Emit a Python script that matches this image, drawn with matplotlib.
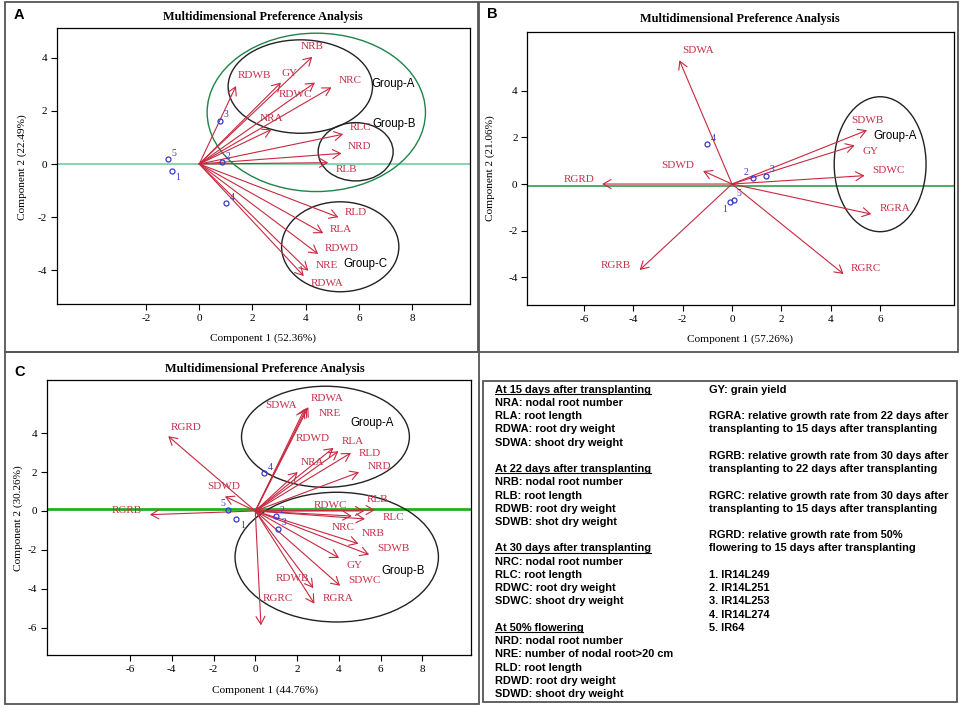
import matplotlib
matplotlib.use("Agg")
import matplotlib.pyplot as plt
from matplotlib.patches import Ellipse, Rectangle

plt.rcParams["font.family"] = ["Liberation Serif", "DejaVu Serif"]
plt.rcParams["axes.unicode_minus"] = False

# ---- panel A: root traits ----
a_vars = ["NRB", "GY", "RDWC", "NRC", "RDWB", "NRA", "RLC", "NRD", "RLB",
          "RLD", "RLA", "RDWD", "NRE", "RDWA"]
a_tip_x = [4.25, 3.07, 4.35, 4.97, 1.38, 2.72, 5.41, 5.35, 4.85, 5.23, 4.66, 4.47, 4.10, 3.93]
a_tip_y = [4.03, 3.06, 3.06, 2.88, 2.93, 1.30, 1.12, 0.40, 0.05, -2.00, -2.60, -3.38, -4.01, -4.21]
a_lab_x = [4.25, 3.41, 3.62, 5.66, 2.06, 2.72, 6.08, 6.04, 5.54, 5.89, 5.33, 5.35, 4.79, 4.82]
a_lab_y = [4.41, 3.41, 2.62, 3.12, 3.31, 1.72, 1.37, 0.65, -0.19, -1.82, -2.46, -3.18, -3.83, -4.49]
a_obs = ["1", "2", "3", "4", "5"]
a_obs_x = [-1.04, 0.84, 0.78, 1.00, -1.19]
a_obs_y = [-0.25, 0.06, 1.63, -1.45, 0.20]
a_groups = ["Group-A", "Group-B", "Group-C"]
a_group_x = [7.29, 7.33, 6.25]
a_group_y = [3.00, 1.50, -3.76]
a_ell_cx = [4.40, 3.80, 5.88, 5.30]
a_ell_cy = [1.94, 2.91, 0.46, -3.11]
a_ell_w = [8.21, 5.43, 2.82, 4.41]
a_ell_h = [5.95, 3.51, 2.19, 3.38]

# ---- panel B: shoot traits and growth rates ----
b_vars = ["SDWA", "SDWD", "RGRD", "RGRB", "RGRC", "RGRA", "SDWC", "GY", "SDWB"]
b_tip_x = [-2.13, -1.17, -5.26, -3.74, 4.52, 5.64, 5.37, 4.97, 5.47]
b_tip_y = [5.31, 0.56, 0.00, -3.69, -3.86, -1.29, 0.36, 1.66, 2.31]
b_lab_x = [-1.38, -2.19, -6.19, -4.70, 5.44, 6.59, 6.34, 5.60, 5.47]
b_lab_y = [5.71, 0.79, 0.20, -3.50, -3.63, -1.07, 0.57, 1.39, 2.71]
b_obs = ["1", "2", "3", "4", "5"]
b_obs_x = [-0.07, 0.85, 1.38, -1.01, 0.07]
b_obs_y = [-0.79, 0.24, 0.36, 1.70, -0.69]
b_groups = ["Group-A"]
b_group_x = [6.61]
b_group_y = [2.06]
b_ell_cx = [6.00]
b_ell_cy = [0.85]
b_ell_w = [3.72]
b_ell_h = [5.79]

# ---- panel C: all traits ----
c_vars = ["RDWA", "NRE", "SDWA", "RGRD", "RDWD", "RLA", "RLD", "NRA", "NRD", "SDWD",
          "RGRB", "RLB", "RDWC", "RLC", "NRC", "NRB", "SDWB", "GY", "SDWC", "RDWB",
          "RGRA", "RGRC"]
c_tip_x = [2.54, 2.46, 2.36, -4.17, 3.74, 3.98, 4.58, 2.03, 4.97, -1.45,
           -5.05, 5.73, 5.22, 5.25, 4.62, 4.94, 5.45, 4.01, 4.06, 2.78,
           2.83, 0.27]
c_tip_y = [5.33, 5.29, 5.24, 3.84, 3.24, 3.07, 2.98, 2.00, 1.99, 0.75,
           -0.19, 0.05, 0.00, -0.41, -0.26, -1.68, -2.24, -2.41, -3.84, -3.96,
           -4.76, -5.87]
c_lab_x = [3.42, 3.55, 1.23, -3.29, 2.75, 4.65, 5.50, 2.73, 5.93, -1.50,
           -6.17, 5.85, 3.58, 6.61, 4.22, 5.65, 6.61, 4.74, 5.22, 1.79,
           3.95, 1.07]
c_lab_y = [5.80, 5.00, 5.43, 4.30, 3.72, 3.58, 2.95, 2.50, 2.26, 1.25,
           0.03, 0.58, 0.29, -0.31, -0.84, -1.15, -1.95, -2.79, -3.58, -3.48,
           -4.50, -4.50]
c_obs = ["1", "2", "3", "4", "5"]
c_obs_x = [-0.91, 1.00, 1.10, 0.42, -1.29]
c_obs_y = [-0.39, -0.27, -0.91, 1.93, 0.05]
c_groups = ["Group-A", "Group-B"]
c_group_x = [5.61, 7.09]
c_group_y = [4.52, -3.10]
c_ell_cx = [3.36, 3.90]
c_ell_cy = [3.81, -2.37]
c_ell_w = [8.04, 9.74]
c_ell_h = [5.19, 6.66]

# ---- legend text ----
legend_left = [
    "At 15 days after transplanting", "NRA: nodal root number", "RLA: root length",
    "RDWA: root dry weight", "SDWA: shoot dry weight", "",
    "At 22 days after transplanting", "NRB: nodal root number", "RLB: root length",
    "RDWB: root dry weight", "SDWB: shot dry weight", "",
    "At 30 days after transplanting", "NRC: nodal root number", "RLC: root length",
    "RDWC: root dry weight", "SDWC: shoot dry weight", "",
    "At 50% flowering", "NRD: nodal root number", "NRE: number of nodal root>20 cm",
    "RLD: root length", "RDWD: root dry weight", "SDWD: shoot dry weight",
]
legend_headings = [0, 6, 12, 18]
legend_right = [
    "GY: grain yield", "",
    "RGRA: relative growth rate from 22 days after",
    "transplanting to 15 days after transplanting", "",
    "RGRB: relative growth rate from 30 days after",
    "transplanting to 22 days after transplanting", "",
    "RGRC: relative growth rate from 30 days after",
    "transplanting to 15 days after transplanting", "",
    "RGRD: relative growth rate from 50%",
    "flowering to 15 days after transplanting", "",
    "1. IR14L249", "2. IR14L251", "3. IR14L253", "4. IR14L274", "5. IR64",
]

W, H = 964, 708
ARROW = "#C8283F"
LABEL = "#C4304A"
BLUE = "#3838CC"

fig = plt.figure(figsize=(W / 100, H / 100), dpi=100)


def fx(x):
    return x / W


def fy(y):
    return 1 - y / H


def make_axes(l, t, r, b, xlim, ylim, xticks, yticks):
    ax = fig.add_axes([fx(l), fy(b), (r - l) / W, (b - t) / H])
    ax.set_xlim(*xlim)
    ax.set_ylim(*ylim)
    ax.set_xticks(xticks)
    ax.set_yticks(yticks)
    ax.tick_params(direction="out", length=4, width=0.8, labelsize=8, pad=3)
    for s in ax.spines.values():
        s.set_linewidth(0.9)
    return ax


def draw_panel(ax, vars_, tx, ty, lx, ly, obs, ox, oy, offs,
               groups, gx, gy, ecx, ecy, ew, eh, ecol, line_y, line_col, line_w):
    ax.axhline(line_y, color=line_col, lw=line_w, zorder=1)
    for cx, cy, w, h, col in zip(ecx, ecy, ew, eh, ecol):
        ax.add_patch(Ellipse((cx, cy), w, h, fill=False, edgecolor=col, lw=1.0, zorder=2))
    for name, x, y, x2, y2 in zip(vars_, tx, ty, lx, ly):
        ax.annotate("", xy=(x, y), xytext=(0, 0),
                    arrowprops=dict(arrowstyle="->,head_length=0.4,head_width=0.23",
                                    color=ARROW, lw=0.8, shrinkA=0, shrinkB=0,
                                    mutation_scale=14), zorder=3)
        ax.text(x2, y2, name, color=LABEL, fontsize=8, ha="center", va="center", zorder=4)
    ax.plot(ox, oy, "o", mfc="none", mec=BLUE, ms=3.6, mew=0.9, zorder=5)
    for name, x, y, (dx, dy) in zip(obs, ox, oy, offs):
        ax.annotate(name, (x, y), xytext=(dx * 4.3, dy * 4.3), textcoords="offset points",
                    color=BLUE, fontsize=7, ha="center", va="center", zorder=5)
    for name, x, y in zip(groups, gx, gy):
        ax.text(x, y, name, color="black", fontsize=8.3, family="Liberation Sans",
                ha="center", va="center", zorder=6)


def panel_text(letter, lpos, title_pos, xlab, xlab_pos, ylab, ylab_pos):
    fig.text(fx(lpos[0]), fy(lpos[1]), letter, family="Liberation Sans",
             weight="bold", fontsize=10.5, ha="center", va="center")
    fig.text(fx(title_pos[0]), fy(title_pos[1]), "Multidimensional Preference Analysis",
             weight="bold", fontsize=8.8, ha="center", va="center")
    fig.text(fx(xlab_pos[0]), fy(xlab_pos[1]), xlab, fontsize=8.1, ha="center", va="center")
    fig.text(fx(ylab_pos[0]), fy(ylab_pos[1]), ylab, fontsize=8.1, ha="center",
             va="center", rotation=90)


# frames around panels
for l, t, r, b in [(5, 2, 478, 352), (479, 2, 958, 352), (5, 352, 479, 704), (483, 381, 957, 702)]:
    fig.patches.append(Rectangle((fx(l), fy(b)), (r - l) / W, (b - t) / H, fill=False,
                                 edgecolor="#555555", lw=1.3, transform=fig.transFigure))

# A
axA = make_axes(57, 28, 470, 304, (-5.35, 10.18), (-5.26, 5.11),
                [-2, 0, 2, 4, 6, 8], [-4, -2, 0, 2, 4])
draw_panel(axA, a_vars, a_tip_x, a_tip_y, a_lab_x, a_lab_y,
           a_obs, a_obs_x, a_obs_y, [(1, -1.1), (1.1, 1), (1, 1), (1, 0.9), (1, 0.8)],
           a_groups, a_group_x, a_group_y, a_ell_cx, a_ell_cy, a_ell_w, a_ell_h,
           ["#1E8449", "#222222", "#222222", "#222222"], 0, "#7FD1A6", 1.3)
panel_text("A", (19, 15), (263, 17), "Component 1 (52.36%)", (263, 338),
           "Component 2 (22.49%)", (22, 167))

# B
axB = make_axes(527.3, 32.3, 953.7, 305, (-8.29, 8.98), (-5.19, 6.51),
                [-6, -4, -2, 0, 2, 4, 6], [-4, -2, 0, 2, 4])
draw_panel(axB, b_vars, b_tip_x, b_tip_y, b_lab_x, b_lab_y,
           b_obs, b_obs_x, b_obs_y, [(-1, -1.1), (-1.1, 1), (1, 1), (1, 1), (0.8, 1.1)],
           b_groups, b_group_x, b_group_y, b_ell_cx, b_ell_cy, b_ell_w, b_ell_h,
           ["#222222"], -0.09, "#2E9E4A", 1.2)
panel_text("B", (492, 14), (740, 19), "Component 1 (57.26%)", (740, 339),
           "Component 2 (21.06%)", (490, 168))

# C
axC = make_axes(46.7, 379.7, 471, 655.3, (-9.99, 10.33), (-7.41, 6.74),
                [-6, -4, -2, 0, 2, 4, 6, 8], [-6, -4, -2, 0, 2, 4])
draw_panel(axC, c_vars, c_tip_x, c_tip_y, c_lab_x, c_lab_y,
           c_obs, c_obs_x, c_obs_y, [(1, -1.1), (1, 1), (1, 1.1), (1.1, 1), (-1, 1.1)],
           c_groups, c_group_x, c_group_y, c_ell_cx, c_ell_cy, c_ell_w, c_ell_h,
           ["#222222", "#222222"], 0.09, "#22B022", 2.0)
panel_text("C", (20, 372), (265, 369), "Component 1 (44.76%)", (265, 690),
           "Component 2 (30.26%)", (18, 518))

# legend box text
step = 13.23
renderer = fig.canvas.get_renderer()
for i, line in enumerate(legend_left):
    if not line:
        continue
    t = fig.text(fx(494.7), fy(389.7 + i * step), line, family="Liberation Sans",
                 weight="bold", fontsize=7.9, ha="left", va="center")
    if i in legend_headings:
        bb = t.get_window_extent(renderer).transformed(fig.transFigure.inverted())
        fig.add_artist(plt.Line2D([bb.x0, bb.x1], [bb.y0 + 0.001, bb.y0 + 0.001],
                                  color="black", lw=0.8, transform=fig.transFigure))
for i, line in enumerate(legend_right):
    if not line:
        continue
    fig.text(fx(708.7), fy(389.7 + i * step), line, family="Liberation Sans",
             weight="bold", fontsize=7.9, ha="left", va="center")

fig.savefig("out.png", dpi=100)
